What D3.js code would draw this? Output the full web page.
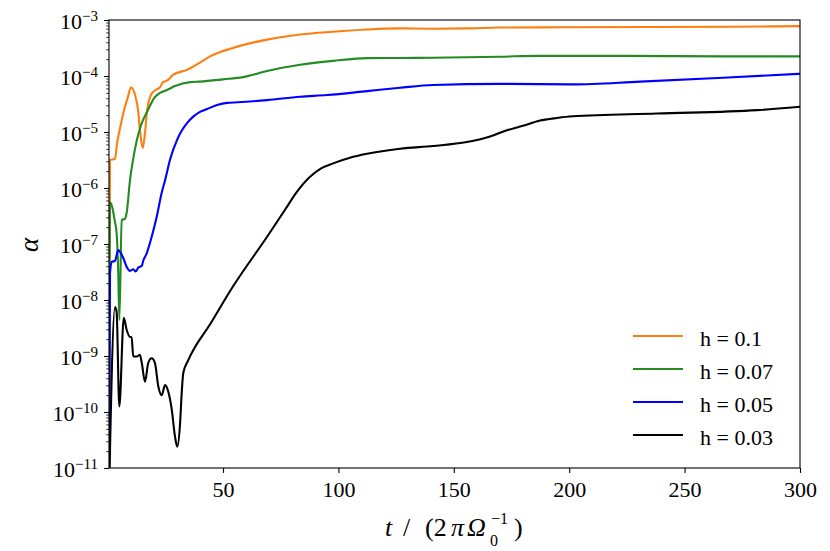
<!DOCTYPE html>
<html>
<head>
<meta charset="utf-8">
<script src="https://cdn.jsdelivr.net/npm/d3@7"></script>
<style>
  body { margin: 0; background: #fff; }
  svg, svg text { font-family: "Liberation Serif", "Times New Roman", serif; }
  svg { display: block; }
  .axis path.domain { display: none; }
  .axis line { stroke: #000; }
</style>
</head>
<body>
<div id="chart"></div>
<script>
// ── DATA ─────────────────────────────────────────────────────────────────────
// each point: [t in orbits, log10(alpha)]
const seriesLabels = ['h = 0.1', 'h = 0.07', 'h = 0.05', 'h = 0.03'];
const seriesColors = ['#ff7f0e', '#228b22', '#0000ff', '#000000'];

const h010 = [
  [0.6, -11.5], [1.0, -5.5], [3.2, -5.48], [4.1, -5.20], [5.4, -4.93], [7.1, -4.61],
  [8.8, -4.375], [10.1, -4.20], [11.9, -4.34], [13.2, -4.61], [14.0, -4.96], [15.2, -5.29],
  [16.2, -5.02], [17.1, -4.61], [18.4, -4.375], [20.1, -4.27], [22.7, -4.20], [24.0, -4.11],
  [26.2, -4.07], [28.3, -3.98], [34.4, -3.89], [40.0, -3.76], [44.4, -3.65], [54.3, -3.50],
  [69.1, -3.35], [83.4, -3.26], [97.7, -3.21], [112.4, -3.17], [126.7, -3.15], [141.0, -3.155],
  [155.7, -3.15], [170.0, -3.135], [196, -3.13], [235, -3.125], [270, -3.12], [300, -3.11]
];

const h007 = [
  [0.6, -11.5], [1.0, -6.25], [3.2, -6.61], [3.9, -6.8], [4.6, -7.5], [5.1, -8.36],
  [6.1, -6.57], [7.5, -6.55], [8.3, -6.43], [9.7, -5.86], [11.0, -5.5], [12.7, -5.14],
  [14.5, -4.875], [17.1, -4.64], [20.5, -4.375], [22.7, -4.30], [25.7, -4.25], [29.2, -4.18],
  [35.7, -4.11], [40.0, -4.10], [50, -4.06], [58.7, -4.02], [69.1, -3.91], [83.4, -3.80],
  [97.7, -3.73], [112.4, -3.68], [141, -3.675], [170, -3.655], [187, -3.64], [223, -3.64],
  [267, -3.65], [300, -3.65]
];

const h005 = [
  [0.6, -11.5], [1.04, -7.52], [1.8, -7.32], [3.2, -7.30], [4.6, -7.11], [5.4, -7.14],
  [6.8, -7.25], [8.3, -7.41], [9.7, -7.48], [11.1, -7.45], [12.2, -7.49], [13.3, -7.42],
  [14.8, -7.39], [15.5, -7.29], [16.9, -7.17], [19.1, -6.87], [21.3, -6.51], [23.4, -6.09],
  [24.9, -5.86], [27.0, -5.5], [30.1, -5.14], [32.2, -4.97], [34.4, -4.84], [37.0, -4.73],
  [40.0, -4.64], [43.1, -4.59], [47.4, -4.52], [51.7, -4.48], [56.5, -4.47], [69.1, -4.43],
  [83.4, -4.37], [95.1, -4.34], [112.4, -4.27], [126.7, -4.21], [141.0, -4.16], [170.0, -4.14],
  [201.6, -4.15], [230.7, -4.10], [266.7, -4.03], [300, -3.96]
];

const h003 = [
  [0.6, -11.5], [3.2, -8.125], [3.9, -8.21], [5.07, -9.9], [7.0, -8.32], [8.3, -8.54],
  [9.7, -8.66], [10.4, -8.66], [11.1, -9.01], [12.6, -9.01], [14.0, -8.98], [14.8, -9.125],
  [16.2, -9.46], [17.6, -9.125], [19.1, -9.04], [20.5, -9.125], [22.0, -9.55], [23.4, -9.70],
  [24.9, -9.52], [26.3, -9.64], [27.8, -9.96], [29.2, -10.44], [30.2, -10.62], [31.4, -10.20],
  [32.1, -9.66], [32.8, -9.30], [35.0, -9.07], [44.6, -8.42], [54.3, -7.76], [69.1, -6.87],
  [77.0, -6.38], [82.0, -6.07], [87.7, -5.80], [92.5, -5.65], [97.7, -5.56], [105.0, -5.46],
  [112.4, -5.39], [126.7, -5.30], [141, -5.25], [155.7, -5.18], [165.7, -5.08], [173.0, -4.97],
  [180, -4.89], [187.0, -4.80], [194.7, -4.75], [201.6, -4.72], [238, -4.67], [281.4, -4.61],
  [300, -4.55]
];

const allSeries = [h010, h007, h005, h003];

const xTicks = [50, 100, 150, 200, 250, 300];
const yExponents = [-11, -10, -9, -8, -7, -6, -5, -4, -3];

// ── DIMENSIONS ───────────────────────────────────────────────────────────────
const W = 830, H = 551;
const margin = { top: 20, right: 30, bottom: 83, left: 109 };
const width  = W - margin.left - margin.right;
const height = H - margin.top - margin.bottom;

const svg = d3.select('#chart').append('svg')
    .attr('width', W)
    .attr('height', H);

const g = svg.append('g')
    .attr('transform', `translate(${margin.left},${margin.top})`);

// ── SCALES ───────────────────────────────────────────────────────────────────
const x = d3.scaleLinear().domain([0.6, 300]).range([0, width]);
const y = d3.scaleLog().domain([1e-11, 1e-3]).range([height, 0]);

// ── AXES ─────────────────────────────────────────────────────────────────────
const minorY = [];
yExponents.slice(0, -1).forEach(e => {
  for (let m = 2; m <= 9; m++) minorY.push(m * Math.pow(10, e));
});

g.append('g')
    .attr('class', 'axis')
    .call(d3.axisLeft(y).tickValues(minorY).tickSize(2.8).tickFormat(() => ''))
    .selectAll('line').attr('stroke-width', 0.8);

const yAxisG = g.append('g')
    .attr('class', 'axis')
    .call(d3.axisLeft(y)
      .tickValues(yExponents.map(e => Math.pow(10, e)))
      .tickSize(4.9)
      .tickFormat(() => ''));
yAxisG.attr('font-family', null);
yAxisG.selectAll('line').attr('stroke-width', 1.1);
yAxisG.selectAll('.tick text').each(function(d) {
  const t = d3.select(this)
      .attr('x', -11)
      .attr('y', 8)
      .attr('dy', null)
      .attr('text-anchor', 'end')
      .attr('fill', '#000')
      .style('font-size', '22px');
  t.append('tspan').text('10');
  t.append('tspan')
      .attr('dy', -8)
      .style('font-size', '15px')
      .text('\u2212' + Math.abs(Math.round(Math.log10(d))));
});

const xAxisG = g.append('g')
    .attr('class', 'axis')
    .attr('transform', `translate(0,${height})`)
    .call(d3.axisBottom(x).tickValues(xTicks).tickSize(4.9));
xAxisG.attr('font-family', null);
xAxisG.selectAll('line').attr('stroke-width', 1.1);
xAxisG.selectAll('.tick text')
    .attr('y', 29)
    .attr('dy', null)
    .attr('fill', '#000')
    .style('font-size', '22px');

// ── LINES ────────────────────────────────────────────────────────────────────
g.append('defs').append('clipPath')
    .attr('id', 'plot-clip')
  .append('rect')
    .attr('width', width)
    .attr('height', height);

const line = d3.line()
    .curve(d3.curveMonotoneX)
    .x(d => x(d[0]))
    .y(d => y(Math.pow(10, d[1])));

g.append('g')
    .attr('clip-path', 'url(#plot-clip)')
  .selectAll('path')
  .data(allSeries)
  .join('path')
    .attr('fill', 'none')
    .attr('stroke', (d, i) => seriesColors[i])
    .attr('stroke-width', 2.1)
    .attr('stroke-linejoin', 'round')
    .attr('d', line);

// frame
g.append('rect')
    .attr('width', width)
    .attr('height', height)
    .attr('fill', 'none')
    .attr('stroke', '#000')
    .attr('stroke-width', 1.1);

// ── LEGEND ───────────────────────────────────────────────────────────────────
const legend = svg.append('g').attr('transform', 'translate(633,336)');
seriesLabels.forEach((lab, i) => {
  const row = legend.append('g').attr('transform', `translate(0,${i * 33})`);
  row.append('line')
      .attr('x1', 0).attr('x2', 50)
      .attr('stroke', seriesColors[i])
      .attr('stroke-width', 2.1);
  row.append('text')
      .attr('x', 67)
      .attr('y', 10)
      .style('font-size', '22px')
      .text(lab);
});

// ── AXIS LABELS ──────────────────────────────────────────────────────────────
svg.append('text')
    .attr('transform', 'translate(38,245) rotate(-90)')
    .attr('text-anchor', 'middle')
    .style('font-size', '27px')
    .style('font-style', 'italic')
    .text('\u03b1');

// x label: t / (2πΩ₀⁻¹) — sub and sup stacked as separate texts
const base = 536;
const xl = svg.append('text').style('font-size', '26px');
xl.append('tspan').attr('x', 385).attr('y', base).style('font-style', 'italic').text('t');
xl.append('tspan').attr('x', 403).attr('y', base).text('/');
xl.append('tspan').attr('x', 425).attr('y', base).text('(2');
xl.append('tspan').attr('x', 451).attr('y', base).style('font-style', 'italic').text('\u03c0');
xl.append('tspan').attr('x', 467).attr('y', base).style('font-style', 'italic').text('\u03a9');
xl.append('tspan').attr('x', 514).attr('y', base).text(')');
svg.append('text')
    .attr('x', 490).attr('y', base + 10)
    .style('font-size', '16px')
    .text('0');
svg.append('text')
    .attr('x', 491).attr('y', base - 12)
    .style('font-size', '16px')
    .text('\u22121');
</script>
</body>
</html>
